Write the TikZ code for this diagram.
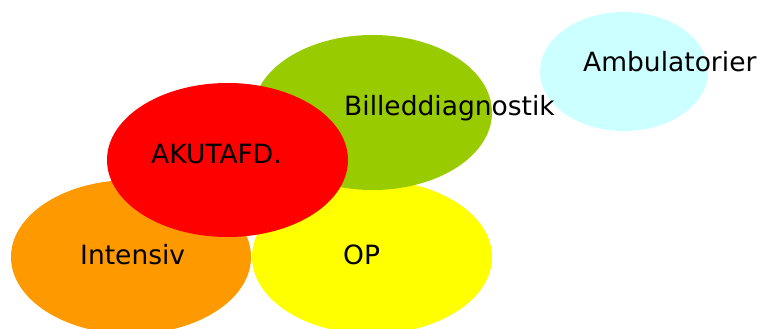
\documentclass[tikz,border=0pt]{standalone}
\usepackage{fontspec}
\setmainfont{DejaVu Sans}
\usetikzlibrary{shapes.geometric}
\definecolor{AmbuCyan}{HTML}{CCFFFF}
\definecolor{BilledGreen}{HTML}{99CC00}
\definecolor{AkutRed}{HTML}{FF0000}
\definecolor{IntensOrange}{HTML}{FF9900}
\definecolor{OpYellow}{HTML}{FFFF00}
\tikzset{every node/.style={font=\fontsize{26.5}{31}\selectfont},
 blob/.style={ellipse,draw=none,inner sep=0pt,minimum width=240pt,minimum height=154pt},
 tag/.style={anchor=base west,inner sep=0pt,text=black}}

\begin{document}
\begin{tikzpicture}[x=1pt,y=-1pt]
\useasboundingbox (0,0) rectangle (757,329);
\node[blob,fill=AmbuCyan,minimum width=168pt,minimum height=119pt] (ambu) at (624,71.5){};
\node[tag] (ambu-txt) at (583,71){Ambulatorier};
\node[blob,fill=IntensOrange] (intens) at (131,257){};
\node[tag] (intens-txt) at (80,264){Intensiv};
\node[blob,fill=OpYellow] (op) at (372,257){};
\node[tag] (op-txt) at (343,264){OP};
\node[blob,fill=BilledGreen,minimum width=239pt,minimum height=155pt] (billed) at (372.5,112.5){};
\node[tag] (billed-txt) at (344,115){Billeddiagnostik};
\node[blob,fill=AkutRed,minimum width=241pt] (akut) at (227.5,160){};
\node[tag] (akut-txt) at (151,163){AKUTAFD.};
\end{tikzpicture}
\end{document}
